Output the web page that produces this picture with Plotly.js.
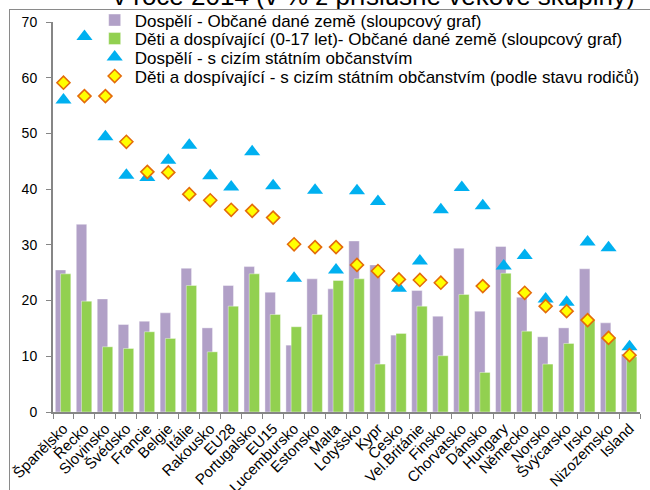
<!DOCTYPE html>
<html>
<head>
<meta charset="utf-8">
<script src="https://cdn.plot.ly/plotly-3.0.1.min.js"></script>
<style>
  html, body { margin: 0; padding: 0; background: #fff; overflow: hidden; }
  #chart { width: 650px; height: 490px; position: absolute; left: 0; top: 0; }
  #frame { position: absolute; left: 9px; top: 9px; width: 700px; height: 500px;
           border-left: 1px solid #8a8a8a; border-top: 1px solid #8a8a8a; pointer-events: none; }
</style>
</head>
<body>
<div id="chart"></div>
<div id="frame"></div>
<script>
const categories = ["Španělsko","Řecko","Slovinsko","Švédsko","Francie","Belgie","Itálie","Rakousko","EU28","Portugalsko","EU15","Lucembursko","Estonsko","Malta","Lotyšsko","Kypr","Česko","Vel.Británie","Finsko","Chorvatsko","Dánsko","Hungary","Německo","Norsko","Švýcarsko","Irsko","Nizozemsko","Island"];

const adultsNationals = [25.5, 33.7, 20.3, 15.7, 16.3, 17.8, 25.8, 15.1, 22.7, 26.1, 21.5, 12.0, 23.9, 22.1, 30.7, 26.4, 13.8, 21.8, 17.2, 29.4, 18.1, 29.7, 20.6, 13.5, 15.1, 25.7, 16.0, 10.4];
const childrenNationals = [24.8, 19.9, 11.7, 11.4, 14.4, 13.2, 22.7, 10.8, 19.0, 24.8, 17.5, 15.3, 17.5, 23.6, 23.9, 8.6, 14.1, 19.0, 10.1, 21.1, 7.1, 24.9, 14.5, 8.6, 12.3, 16.5, 13.4, 9.9];
const adultsForeign = [56.0, 67.4, 49.4, 42.5, 42.1, 45.2, 47.9, 42.4, 40.4, 46.7, 40.6, 24.0, 39.8, 25.5, 39.7, 37.8, 22.2, 27.1, 36.3, 40.3, 37.0, 26.2, 28.1, 20.3, 19.7, 30.5, 29.5, 11.7];
const childrenForeign = [59.1, 56.7, 56.7, 48.5, 43.1, 43.0, 39.1, 38.0, 36.3, 36.1, 34.9, 30.1, 29.6, 29.6, 26.4, 25.3, 23.8, 23.7, 23.2, null, 22.6, null, 21.4, 19.0, 18.1, 16.5, 13.3, 10.2];

const seriesNames = [
  "Dospělí - Občané dané země (sloupcový graf)",
  "Děti a dospívající (0-17 let)- Občané dané země (sloupcový graf)",
  "Dospělí - s cizím státním občanstvím",
  "Děti a dospívající - s cizím státním občanstvím (podle stavu rodičů)"
];
const yTicks = [0, 10, 20, 30, 40, 50, 60, 70];
const titleText = "v roce 2014 (v % z příslušné věkové skupiny)";

const FONT = "Liberation Sans, Arial, sans-serif";

const traces = [
  {
    type: "bar", name: seriesNames[0], x: categories, y: adultsNationals,
    offset: -0.39, width: 0.5, legend: "legend",
    marker: { color: "#B1A0C7", line: { color: "rgba(255,255,255,0.5)", width: 0.8 } }
  },
  {
    type: "bar", name: seriesNames[1], x: categories, y: childrenNationals,
    offset: -0.14, width: 0.49, legend: "legend2",
    marker: { color: "#92D050", line: { color: "rgba(255,255,255,0.5)", width: 0.8 } }
  },
  {
    type: "scatter", mode: "markers", name: seriesNames[2], x: categories, y: adultsForeign,
    legend: "legend3",
    marker: { symbol: "triangle-up", size: 14, color: "#00B0F0", line: { width: 0 } },
    cliponaxis: false
  },
  {
    type: "scatter", mode: "markers", name: seriesNames[3], x: categories, y: childrenForeign,
    legend: "legend4",
    marker: { symbol: "diamond", size: 10, color: "#FFFF00", line: { color: "#E46C0A", width: 1.6 } },
    cliponaxis: false
  }
];

function legendAt(yPaper) {
  return {
    x: 0.071, y: yPaper, xanchor: "left", yanchor: "middle",
    bgcolor: "rgba(0,0,0,0)", borderwidth: 0,
    font: { family: FONT, size: 17, color: "#000" },
    itemwidth: 30
  };
}

const layout = {
  width: 650, height: 490,
  margin: { l: 53, r: 10, t: 22, b: 78, pad: 0, autoexpand: false },
  paper_bgcolor: "rgba(0,0,0,0)",
  plot_bgcolor: "rgba(0,0,0,0)",
  font: { family: FONT, size: 14, color: "#000" },
  barmode: "overlay",
  showlegend: true,
  legend: legendAt(1.0038),
  legend2: legendAt(0.9564),
  legend3: legendAt(0.909),
  legend4: legendAt(0.8603),
  xaxis: {
    type: "category",
    tickangle: -45,
    tickson: "boundaries",
    ticks: "outside", ticklen: 5, tickcolor: "#868686", tickwidth: 1,
    showline: true, linecolor: "#868686", linewidth: 2,
    showgrid: false, zeroline: false,
    tickfont: { family: FONT, size: 15, color: "#000" },
    range: [-0.5, categories.length - 0.5],
    automargin: false
  },
  yaxis: {
    range: [0, 70],
    tickvals: yTicks, ticktext: yTicks.map(String),
    ticks: "outside", ticklen: 5, tickcolor: "#868686", tickwidth: 1,
    showline: true, linecolor: "#868686", linewidth: 2,
    showgrid: false, zeroline: false,
    tickfont: { family: FONT, size: 14, color: "#000" },
    ticklabelstandoff: 6,
    automargin: false
  },
  annotations: [{
    text: titleText,
    xref: "paper", yref: "paper",
    x: 0.546, y: 1.024, xanchor: "center", yanchor: "bottom",
    showarrow: false,
    font: { family: FONT, size: 26, color: "#000" }
  }]
};

Plotly.newPlot("chart", traces, layout, { displayModeBar: false, staticPlot: true });
</script>
</body>
</html>
